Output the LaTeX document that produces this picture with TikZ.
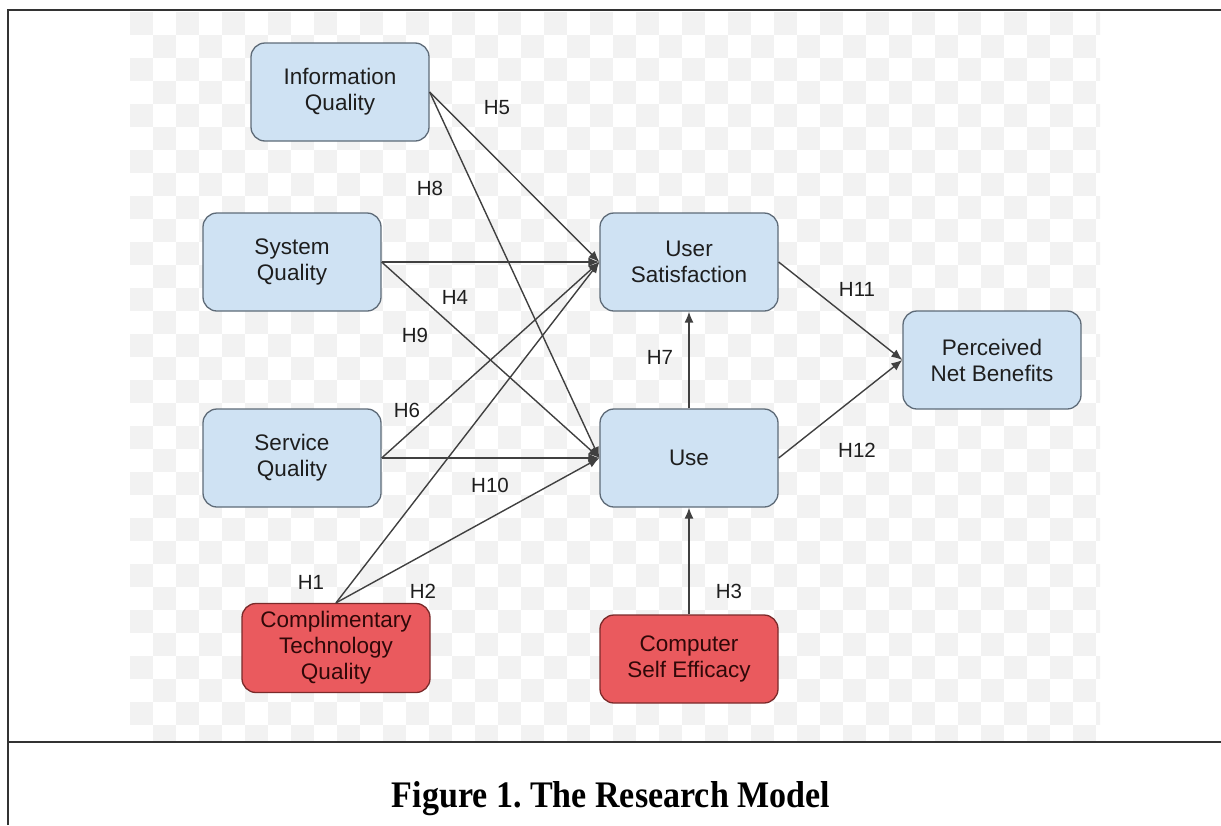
\documentclass[tikz,border=0pt]{standalone}
\usepackage{fontspec}
\setmainfont{Liberation Sans}
\newfontfamily\capfont{Liberation Serif}
\usetikzlibrary{arrows.meta}
\definecolor{boxblue}{HTML}{CFE2F3}
\definecolor{boxred}{HTML}{EA5A5E}
\definecolor{boxline}{HTML}{5E6B78}
\definecolor{redline}{HTML}{7A2A2A}
\definecolor{txt}{HTML}{1E1E1E}
\definecolor{redtxt}{HTML}{300808}
\definecolor{checker}{HTML}{F2F2F2}
\definecolor{edgecol}{HTML}{404040}
\definecolor{framecol}{HTML}{333333}
\begin{document}
\begin{tikzpicture}[x=1pt,y=-1pt,
  bluebox/.style={draw=boxline, line width=1.3pt, fill=boxblue, rounded corners=14pt,
    minimum width=178pt, minimum height=98pt, align=center,
    font=\fontsize{22.5}{26}\selectfont, text=txt, inner sep=0pt},
  redbox/.style={bluebox, fill=boxred, draw=redline, text=redtxt},
  edge/.style={draw=edgecol, line width=1.4pt, -{Latex[length=11pt,width=9pt]}},
  hlab/.style={font=\fontsize{20.5}{24}\selectfont, text=txt, inner sep=0pt}]
\useasboundingbox (0,0) rectangle (1221,825);
\fill[white] (0,0) rectangle (1221,825);
% checkerboard background
\begin{scope}
\clip (130,12) rectangle (1100,740);
\foreach \i in {0,...,42}{
  \foreach \j in {0,...,31}{
    \pgfmathtruncatemacro\myparity{mod(\i+\j,2)}
    \ifnum\myparity=0 \fill[checker] (130+\i*23,12+\j*23) rectangle ++(23,23); \fi
  }
}
\end{scope}
% frame
\draw[framecol, line width=2pt] (8,825) -- (8,10) -- (1225,10);
\draw[framecol, line width=2pt] (8,742) -- (1225,742);
% nodes
\node[bluebox] (iq) at (340,92) {Information\\Quality};
\node[bluebox] (sq) at (292,262) {System\\Quality};
\node[bluebox] (svq) at (292,458) {Service\\Quality};
\node[redbox, minimum width=188pt, minimum height=89pt] (ctq) at (336,648) {Complimentary\\Technology\\Quality};
\node[bluebox] (us) at (689,262) {User\\Satisfaction};
\node[bluebox] (use) at (689,458) {Use};
\node[redbox, minimum height=88pt] (cse) at (689,659) {Computer\\Self Efficacy};
\node[bluebox] (pnb) at (992,360) {Perceived\\Net Benefits};
% edges
\draw[edge] (iq.east) -- (us.west);
\draw[edge] (iq.east) -- (use.west);
\draw[edge] (sq.east) -- (us.west);
\draw[edge] (sq.east) -- (use.west);
\draw[edge] (svq.east) -- (us.west);
\draw[edge] (svq.east) -- (use.west);
\draw[edge] (ctq.north) -- (us.west);
\draw[edge] (ctq.north) -- (use.west);
\draw[edge] (us.east) -- (pnb.west);
\draw[edge] (use.east) -- (pnb.west);
\draw[edge] (use.north) -- (us.south);
\draw[edge] (cse.north) -- (use.south);
% labels
\node[hlab] (h5) at (497,108) {H5};
\node[hlab] (h8) at (430,188) {H8};
\node[hlab] (h4) at (455,297) {H4};
\node[hlab] (h9) at (415,335) {H9};
\node[hlab] (h6) at (407,410) {H6};
\node[hlab] (h10) at (490,485) {H10};
\node[hlab] (h1) at (311,582) {H1};
\node[hlab] (h2) at (423,591) {H2};
\node[hlab] (h7) at (660,357) {H7};
\node[hlab] (h11) at (857,289) {H11};
\node[hlab] (h12) at (857,450) {H12};
\node[hlab] (h3) at (729,591) {H3};
% caption
\node[inner sep=0pt, text=black] (cap) at (611,799) {\resizebox{438pt}{26pt}{\capfont\bfseries Figure 1.\ The Research Model}};
\end{tikzpicture}
\end{document}
